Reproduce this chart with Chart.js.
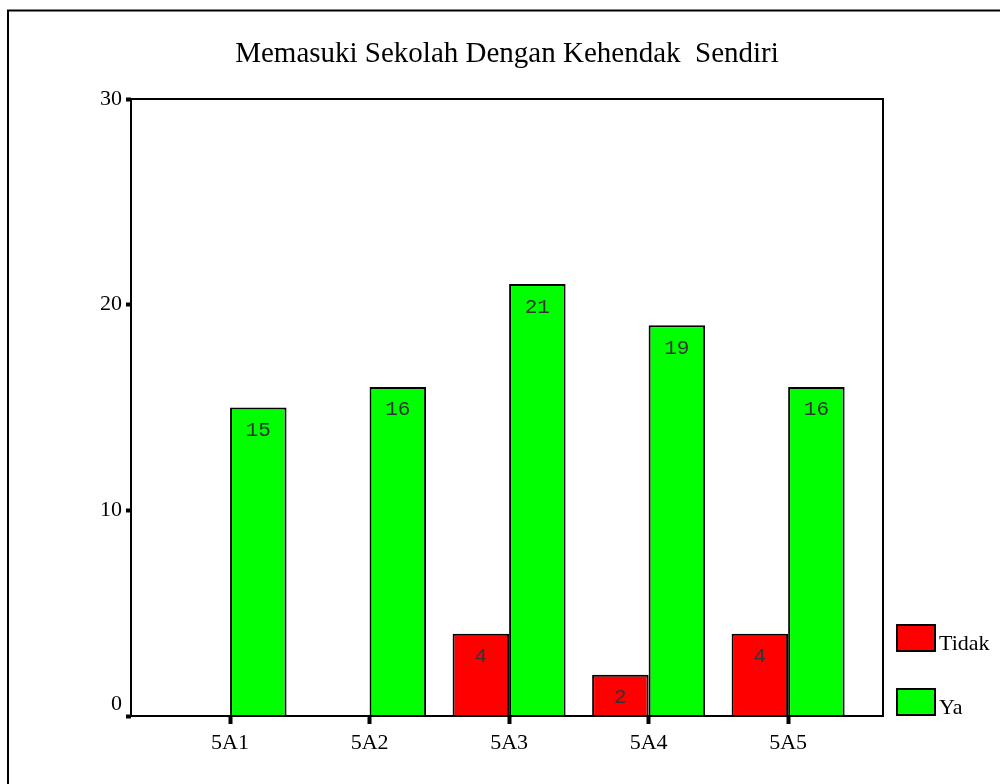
<!DOCTYPE html>
<html>
<head>
<meta charset="utf-8">
<script src="https://cdn.jsdelivr.net/npm/chart.js@4.4.0/dist/chart.umd.min.js"></script>
<style>
html,body{margin:0;padding:0;background:#fff;}
#wrap{width:1000px;height:784px;position:relative;}
</style>
</head>
<body>
<div id="wrap"><canvas id="c" width="1000" height="784"></canvas></div>
<script>
const chartTitle = 'Memasuki Sekolah Dengan Kehendak  Sendiri';
const categories = ['5A1', '5A2', '5A3', '5A4', '5A5'];
const tidakValues = [null, null, 4, 2, 4];
const yaValues = [15, 16, 21, 19, 16];
const yTicks = [0, 10, 20, 30];
const seriesNames = ['Tidak', 'Ya'];
const seriesColors = ['#FF0000', '#00FF00'];

const xPos = categories.map((_, i) => i + 1);
const toPoints = vals => vals.map((v, i) => ({x: xPos[i], y: v}));

const SERIF = '"Liberation Serif", "Times New Roman", serif';

const decorPlugin = {
  id: 'decor',
  afterDraw(chart) {
    const ctx = chart.ctx;
    const a = chart.chartArea;
    const ys = chart.scales.y;
    ctx.save();
    // outer frame (left + top)
    ctx.strokeStyle = '#000';
    ctx.lineWidth = 2;
    ctx.beginPath();
    ctx.moveTo(8, 784);
    ctx.lineTo(8, 10.5);
    ctx.lineTo(1000, 10.5);
    ctx.stroke();
    // plot frame
    ctx.lineWidth = 2;
    ctx.strokeRect(a.left, a.top, a.right - a.left, a.bottom - a.top);
    // title
    ctx.fillStyle = '#000';
    ctx.font = '29px ' + SERIF;
    ctx.textAlign = 'center';
    ctx.textBaseline = 'alphabetic';
    ctx.fillText(chartTitle, (a.left + a.right) / 2, 62);
    // zero label (placed above the axis line as in the original)
    ctx.font = '22px ' + SERIF;
    ctx.textAlign = 'right';
    ctx.textBaseline = 'middle';
    ctx.fillText(String(yTicks[0]), a.left - 9, ys.getPixelForValue(yTicks[0]) - 12);
    // data labels
    ctx.font = '21px "Liberation Mono", "Courier New", monospace';
    ctx.fillStyle = '#333';
    ctx.textAlign = 'center';
    chart.data.datasets.forEach((ds, di) => {
      const meta = chart.getDatasetMeta(di);
      meta.data.forEach((el, i) => {
        const v = ds.data[i].y;
        if (v === null || v === undefined) return;
        ctx.fillText(String(v), el.x, el.y + 23);
      });
    });
    // legend
    const boxX = 897, boxW = 38, boxH = 26;
    const boxYs = [625, 689];
    ctx.font = '22px ' + SERIF;
    ctx.textAlign = 'left';
    ctx.textBaseline = 'alphabetic';
    chart.data.datasets.forEach((ds, di) => {
      ctx.fillStyle = ds.backgroundColor;
      ctx.fillRect(boxX, boxYs[di], boxW, boxH);
      ctx.lineWidth = 2;
      ctx.strokeStyle = '#000';
      ctx.strokeRect(boxX, boxYs[di], boxW, boxH);
      ctx.fillStyle = '#000';
      ctx.fillText(ds.label, 939, boxYs[di] + boxH - 1);
    });
    ctx.restore();
  }
};

new Chart(document.getElementById('c'), {
  type: 'bar',
  data: {
    datasets: [
      {label: seriesNames[0], data: toPoints(tidakValues), backgroundColor: seriesColors[0], borderColor: '#000', borderWidth: 2, borderSkipped: 'bottom'},
      {label: seriesNames[1], data: toPoints(yaValues), backgroundColor: seriesColors[1], borderColor: '#000', borderWidth: 2, borderSkipped: 'bottom'}
    ]
  },
  options: {
    responsive: false,
    animation: false,
    devicePixelRatio: 1,
    layout: {padding: {top: 99, right: 117, left: 0, bottom: 0}},
    datasets: {bar: {categoryPercentage: 0.81, barPercentage: 1.0, grouped: true}},
    plugins: {legend: {display: false}, title: {display: false}, tooltip: {enabled: false}},
    scales: {
      x: {
        type: 'linear',
        min: 0.29,
        max: 5.68,
        offset: false,
        afterFit(s) { s.height = 68; },
        afterBuildTicks(s) { s.ticks = xPos.map(v => ({value: v})); },
        grid: {offset: false, drawOnChartArea: false, drawTicks: true, tickLength: 8, tickWidth: 4, tickColor: '#000'},
        border: {display: false},
        ticks: {
          padding: 6,
          color: '#000',
          font: {family: SERIF, size: 22},
          maxRotation: 0,
          autoSkip: false,
          callback: v => categories[v - 1] || ''
        }
      },
      y: {
        min: 0,
        max: 30,
        afterFit(s) { s.width = 131; },
        afterBuildTicks(s) { s.ticks = yTicks.map(v => ({value: v})); },
        grid: {drawOnChartArea: false, drawTicks: true, tickLength: 5, tickWidth: 4, tickColor: '#000'},
        border: {display: false},
        ticks: {
          padding: 4,
          color: '#000',
          font: {family: SERIF, size: 22},
          callback: v => (v === yTicks[0] ? '' : String(v))
        }
      }
    }
  },
  plugins: [decorPlugin]
});
</script>
</body>
</html>
